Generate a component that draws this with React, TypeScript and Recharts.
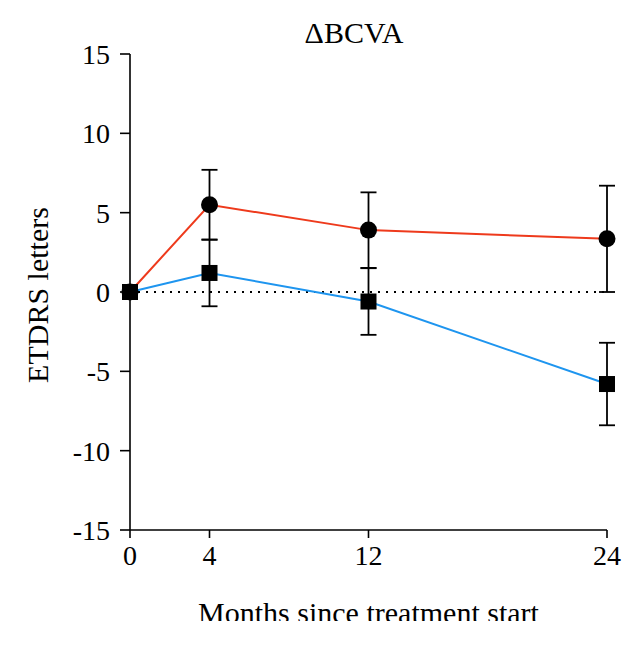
import React from 'react';
import { LineChart, Line, XAxis, YAxis, ErrorBar, ReferenceLine } from 'recharts';

const months = [0, 4, 12, 24];
const redValues = [0, 5.5, 3.9, 3.35];
const redErrors = [0, 2.2, 2.38, 3.35];
const blueValues = [0, 1.2, -0.6, -5.8];
const blueErrors = [0, 2.1, 2.1, 2.6];
const xTicks = [0, 4, 12, 24];
const yTicks = [-15, -10, -5, 0, 5, 10, 15];

const data = months.map((m, i) => ({
  month: m,
  red: redValues[i],
  redErr: redErrors[i],
  blue: blueValues[i],
  blueErr: blueErrors[i],
}));

const FONT = '"Liberation Serif", serif';

const SquareDot = (props: any) => {
  const { cx, cy } = props;
  if (cx == null || cy == null) return null;
  return <rect x={cx - 8} y={cy - 8} width={16} height={16} fill="#000" />;
};

const CircleDot = (props: any) => {
  const { cx, cy } = props;
  if (cx == null || cy == null) return null;
  return <circle cx={cx} cy={cy} r={8.5} fill="#000" />;
};

export default function App() {
  return (
    <div style={{ width: 626, height: 613, overflow: 'hidden' }}>
      <LineChart
        width={626}
        height={640}
        data={data}
        margin={{ top: 46, right: 27, left: 0, bottom: 0 }}
        style={{ fontFamily: FONT }}
      >
        <text x={346} y={35} textAnchor="middle" fontFamily={FONT} fontSize={30} fill="#000">
          ΔBCVA
        </text>
        <XAxis
          dataKey="month"
          type="number"
          domain={[0, 24]}
          ticks={xTicks}
          height={118}
          tickSize={8}
          tickMargin={7}
          axisLine={{ stroke: '#000', strokeWidth: 1.6 }}
          tickLine={{ stroke: '#000', strokeWidth: 1.6 }}
          tick={{ fill: '#000', fontSize: 28, fontFamily: FONT }}
          label={{
            content: (p: any) => {
              const vb = p.viewBox || { x: 122, y: 522, width: 477 };
              return (
                <text
                  x={vb.x + vb.width / 2}
                  y={vb.y + 93}
                  textAnchor="middle"
                  fontFamily={FONT}
                  fontSize={30}
                  fill="#000"
                >
                  Months since treatment start
                </text>
              );
            },
          }}
        />
        <YAxis
          type="number"
          domain={[-15, 15]}
          ticks={yTicks}
          width={122}
          tickSize={10}
          tickMargin={10}
          interval={0}
          axisLine={{ stroke: '#000', strokeWidth: 1.6 }}
          tickLine={{ stroke: '#000', strokeWidth: 1.6 }}
          tick={{ fill: '#000', fontSize: 28, fontFamily: FONT }}
          label={{
            content: () => (
              <text
                x={40}
                y={287}
                transform="rotate(-90 40 287)"
                textAnchor="middle"
                fontFamily={FONT}
                fontSize={30}
                fill="#000"
              >
                ETDRS letters
              </text>
            ),
          }}
        />
        <ReferenceLine y={0} stroke="#000" strokeWidth={2} strokeDasharray="2 6" />
        <Line
          dataKey="red"
          stroke="#ee3a1c"
          strokeWidth={2}
          isAnimationActive={false}
          dot={<CircleDot />}
          activeDot={false}
        >
          <ErrorBar dataKey="redErr" width={8} stroke="#000" strokeWidth={1.8} direction="y" />
        </Line>
        <Line
          dataKey="blue"
          stroke="#1e95ef"
          strokeWidth={2}
          isAnimationActive={false}
          dot={<SquareDot />}
          activeDot={false}
        >
          <ErrorBar dataKey="blueErr" width={8} stroke="#000" strokeWidth={1.8} direction="y" />
        </Line>
      </LineChart>
    </div>
  );
}
